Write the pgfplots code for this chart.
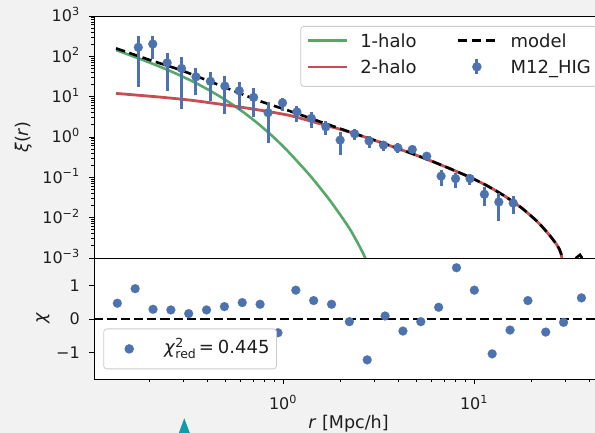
\documentclass[border=0pt]{standalone}
\usepackage{pgfplots}
\pgfplotsset{compat=1.18}
\usepackage{pgfplotstable}
\usepackage{fontspec}
\setmainfont{DejaVu Sans}
\definecolor{sblue}{RGB}{76,114,176}
\definecolor{sgreen}{RGB}{85,168,104}
\definecolor{sred}{RGB}{196,78,82}
\definecolor{bggray}{RGB}{242,242,242}
\definecolor{lgray}{RGB}{204,204,204}
\definecolor{txt}{RGB}{30,30,30}
\definecolor{tealtri}{RGB}{20,155,170}

\pgfplotstableread{
r xi err chi
0.1357 167 150 0.47
0.1683 202 118 0.905
0.2087 69 55 0.29
0.2587 50 45 0.27
0.3208 31 20 0.16
0.3979 24 16 0.27
0.4934 18.3 14.5 0.37
0.6118 14 9.4 0.49
0.7587 9.6 6.4 0.44
0.9410 4.0 3.3 -0.41
1.167 7.0 2.5 0.86
1.447 4.2 1.8 0.55
1.795 2.9 1.2 0.44
2.226 1.79 0.7 -0.08
2.760 0.836 0.48 -1.22
3.423 1.2 0.37 0.09
4.245 0.80 0.28 -0.36
5.265 0.63 0.18 -0.08
6.529 0.54 0.15 0.35
8.095 0.49 0.10 1.53
10.04 0.334 0.07 0.86
12.45 0.107 0.047 -1.04
15.44 0.093 0.038 -0.33
19.15 0.093 0.030 0.55
23.74 0.038 0.018 -0.39
29.44 0.0245 0.016 -0.10
36.52 0.023 0.011 0.63
}\datatable

\pgfplotsset{
  panel/.style={
    scale only axis, width=509pt, anchor=south west,
    axis background/.style={fill=white},
    axis on top,
    axis line style={black, line width=0.9pt},
    tick style={black, line width=0.9pt},
    tick align=outside, tick pos=left,
    major tick length=4.6pt, minor tick length=2.7pt,
    tick label style={font=\fontsize{16}{19}\selectfont, text=txt, inner sep=0pt},
    yticklabel style={anchor=base east, xshift=-9.5pt, yshift=-5.8pt},
    xticklabel style={anchor=base, yshift=-26pt},
  }
}

\begin{document}
\begin{tikzpicture}[x=1pt,y=1pt]
\fill[bggray] (0,0) rectangle (595,433);
\begin{scope}
\clip (0,0) rectangle (595,433);
\fill[tealtri] (184.3,14.7) -- (177.7,-3) -- (190.9,-3) -- cycle;

\begin{axis}[panel, at={(94pt,175pt)}, height=242pt,
  xmode=log, ymode=log,
  xmin=0.07004, xmax=139.39, ymin=1e-3, ymax=1e3,
  xtick=\empty,
  ytick={1e-3,1e-2,1e-1,1,10,100,1000},
  yticklabels={10\textsuperscript{−3},10\textsuperscript{−2},10\textsuperscript{−1},10\textsuperscript{0},10\textsuperscript{1},10\textsuperscript{2},10\textsuperscript{3}},
  minor ytick={2e-3,3e-3,4e-3,5e-3,6e-3,7e-3,8e-3,9e-3,
    2e-2,3e-2,4e-2,5e-2,6e-2,7e-2,8e-2,9e-2,
    0.2,0.3,0.4,0.5,0.6,0.7,0.8,0.9,
    2,3,4,5,6,7,8,9,
    20,30,40,50,60,70,80,90,
    200,300,400,500,600,700,800,900},
  ylabel={\textit{ξ}(\textit{r})},
  every axis y label/.style={at={(axis description cs:-0.1389,0.5)}, rotate=90, anchor=center,
    font=\fontsize{17.5}{20}\selectfont, text=txt},
  legend columns=2,
  legend image code/.code={\draw[#1] (0pt,6.8pt) -- (39pt,6.8pt);},
  legend style={at={(axis description cs:0.9888,0.9587)}, anchor=north east,
    draw=lgray, line width=0.8pt, rounded corners=3pt, fill=white,
    inner xsep=6pt, inner ysep=4.5pt,
    font=\fontsize{18}{21}\selectfont, text=txt,
    nodes={inner sep=0pt, text height=16.2pt, text depth=8.1pt},
    cells={anchor=base west},
    row sep=2.4pt,
    /tikz/column 1/.style={column sep=11.7pt},
    /tikz/column 2/.style={column sep=39.9pt},
    /tikz/column 3/.style={column sep=13.5pt}},
]

\addplot[sgreen, line width=2.6pt, smooth, tension=0.4, forget plot] coordinates {
(0.09727,143.2) (0.12589,99.68) (0.15849,71.37) (0.19953,50.03) (0.25119,34.07)
(0.31623,22.30) (0.39811,13.90) (0.50119,8.177) (0.63096,4.494) (0.79433,2.286)
(1.0,1.066) (1.2589,0.4517) (1.759,0.1110) (2.371,0.02658) (3.195,0.005152)
(3.997,0.00104) (4.640,2.1e-4)};

\addplot[sred, line width=2.8pt, smooth, tension=0.4, forget plot] coordinates {
(0.09727,12.05) (0.1785,9.92) (0.2935,8.215) (0.4825,6.353) (0.7942,4.772)
(1.305,3.4) (2.145,2.024) (3.195,1.319) (5.226,0.70) (8.685,0.348)
(12.80,0.1935) (19.44,0.09786) (25.05,0.06018) (32.28,0.03398) (41.62,0.01712)
(52.84,0.007689) (65.11,0.003081) (74.47,0.001306) (79.06,1.576e-4) (80.85,9e-6)};

\addplot[black, line width=2.6pt, dash pattern=on 9.5pt off 4.5pt, smooth, tension=0.4, forget plot] coordinates {
(0.09727,157.8) (0.1615,80.8) (0.2604,44.36) (0.4947,16.98) (0.8341,7.759)
(1.305,4.38) (2.042,2.403) (3.195,1.33) (5.226,0.7034) (8.685,0.3501)
(12.80,0.1943) (19.44,0.09786) (25.05,0.06018) (32.28,0.03398) (41.62,0.01712)
(52.84,0.007689) (65.11,0.003081) (74.47,0.001306) (79.06,1.576e-4) (80.85,9e-6)};

\addplot[black, line width=2.6pt, forget plot] coordinates {
(93.0,5e-4) (93.85,1.022e-3) (98.88,1.2e-3) (101.2,1.05e-3) (102.5,5e-4)};

\addplot[only marks, mark=*, mark size=4.5pt, color=sblue,
  mark options={fill=sblue, draw=sblue, line width=0.1pt}, forget plot,
  error bars/.cd, y dir=both, y explicit, error mark=none,
  error bar style={line width=3pt, color=sblue}]
  table[x=r, y=xi, y error=err] {\datatable};

\addlegendimage{sgreen, line width=2.6pt}
\addlegendentry{1-halo}
\addlegendimage{legend image code/.code={\draw[black, line width=2.6pt, dash pattern=on 9.5pt off 4.5pt] (0pt,6.8pt) -- (38pt,6.8pt); \path[draw=none] (0pt,6.8pt) -- (39pt,6.8pt);}}
\addlegendentry{model}
\addlegendimage{sred, line width=2.8pt}
\addlegendentry{2-halo}
\addlegendimage{legend image code/.code={\draw[sblue, line width=3pt] (19pt,-0.5pt) -- (19pt,14.5pt); \fill[sblue] (19pt,7pt) circle (4.3pt); \path[draw=none] (0pt,6.8pt) -- (39pt,6.8pt);}}
\addlegendentry{M12\_HIG}
\end{axis}

\begin{axis}[panel, at={(94pt,54pt)}, height=121pt,
  xmode=log,
  xmin=0.10244, xmax=47.35, ymin=-1.791, ymax=1.821,
  xtick={1,10}, xticklabels={10\textsuperscript{0},10\textsuperscript{1}},
  minor xtick={0.2,0.3,0.4,0.5,0.6,0.7,0.8,0.9,2,3,4,5,6,7,8,9,20,30,40},
  ytick={-1,0,1}, yticklabels={−1,0,1},
  xlabel={\textit{r} [Mpc/h]},
  ylabel={\textit{χ}},
  every axis x label/.style={at={(axis description cs:0.5,-0.3719)}, anchor=center,
    font=\fontsize{17.5}{20}\selectfont, text=txt},
  every axis y label/.style={at={(axis description cs:-0.1002,0.5)}, rotate=90, anchor=center,
    font=\fontsize{17.5}{20}\selectfont, text=txt},
  legend style={at={(axis description cs:0.0183,0.0802)}, anchor=south west,
    draw=lgray, line width=0.8pt, rounded corners=3pt, fill=white,
    inner xsep=7pt, inner ysep=11pt,
    font=\fontsize{18}{21}\selectfont, text=txt,
    nodes={inner sep=0pt, text height=14pt, text depth=4pt},
    cells={anchor=west},
    /tikz/column 1/.style={column sep=18.5pt}},
]

\addplot[black, line width=2.6pt, dash pattern=on 9.3pt off 4pt, forget plot] coordinates {(0.10244,0) (47.35,0)};

\addplot[only marks, mark=*, mark size=4.5pt, color=sblue,
  mark options={fill=sblue, draw=sblue, line width=0.1pt}, forget plot]
  table[x=r, y=chi] {\datatable};

\addlegendimage{legend image code/.code={\fill[sblue] (18.5pt,0pt) circle (4.3pt); \path[draw=none] (0pt,0pt) -- (35pt,0pt);}}
\addlegendentry{\textit{χ}$^{\mbox{\fontsize{12.5}{12.5}\selectfont 2}}_{\mbox{\fontsize{12.5}{12.5}\selectfont red}}$\hspace{2.5pt}=\hspace{4pt}0.445}
\end{axis}
\end{scope}
\pgfresetboundingbox
\useasboundingbox (0,0) rectangle (595,433);
\end{tikzpicture}
\end{document}
